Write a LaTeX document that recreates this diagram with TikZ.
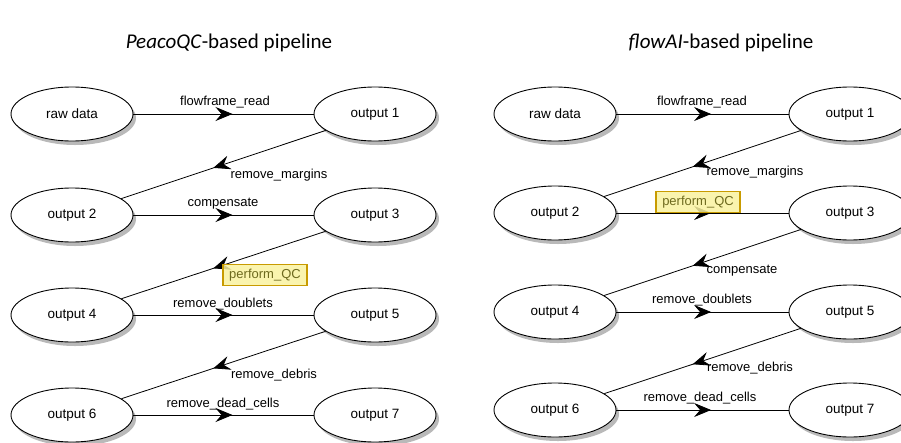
\documentclass[tikz,border=0pt]{standalone}
\usepackage{fontspec}
\setmainfont{Liberation Sans}
\newfontfamily\titlefont{Carlito}
\usetikzlibrary{shapes.geometric,arrows.meta,decorations.markings}
\definecolor{qcfill}{HTML}{FAF3A0}
\definecolor{qcdraw}{HTML}{C89B00}
\definecolor{qctext}{HTML}{6E6A1E}
\begin{document}
\begin{tikzpicture}[x=1pt,y=-1pt,
  stepnode/.style={ellipse, draw=black, line width=0.9pt, fill=white,
    minimum width=122pt, minimum height=54pt, inner sep=0pt,
    font=\fontsize{13.5}{15}\selectfont},
  shadowell/.style={ellipse, fill=gray!55, draw=none,
    minimum width=122pt, minimum height=54pt, inner sep=0pt},
  flow/.style={draw=black, line width=0.8pt, postaction={decorate},
    decoration={markings, mark=at position 0.55 with {\arrow{Stealth[length=17pt,width=14pt,inset=6pt]}}}},
  lbl/.style={font=\fontsize{13}{15}\selectfont, inner sep=1pt},
  qcbox/.style={lbl, fill=qcfill, fill opacity=0.85, text opacity=1, draw=qcdraw, line width=1.6pt, text=qctext, inner xsep=3pt, inner ysep=2pt, minimum width=84pt, minimum height=21pt},
  ttl/.style={font=\titlefont\fontsize{21}{24}\selectfont}
]
\useasboundingbox (0,0) rectangle (901,442);
\fill[white] (0,0) rectangle (901,442);
\begin{scope}
\clip (0,0) rectangle (901,442);
% titles
\node[ttl] (t1) at (229,43) {\textit{PeacoQC}-based pipeline};
\node[ttl] (t2) at (721,43) {\textit{flowAI}-based pipeline};

% shadows
\foreach \x/\y in {72/114,375/114,72/215,375/215,72/315,375/315,72/415,375/415,
                   555/114,850/114,555/213,850/213,555/312,850/312,555/410,850/410}
  \node[shadowell] at (\x+3,\y+4) {};

% left pipeline
\node[stepnode] (a0) at (72,114) {raw data};
\node[stepnode] (a1) at (375,114) {output 1};
\node[stepnode] (a2) at (72,215) {output 2};
\node[stepnode] (a3) at (375,215) {output 3};
\node[stepnode] (a4) at (72,315) {output 4};
\node[stepnode] (a5) at (375,315) {output 5};
\node[stepnode] (a6) at (72,415) {output 6};
\node[stepnode] (a7) at (375,415) {output 7};
\draw[flow] (a0) -- (a1);
\draw[flow] (a1) -- (a2);
\draw[flow] (a2) -- (a3);
\draw[flow] (a3) -- (a4);
\draw[flow] (a4) -- (a5);
\draw[flow] (a5) -- (a6);
\draw[flow] (a6) -- (a7);
\node[lbl] (la1) at (225,102) {flowframe\_read};
\node[lbl] (la2) at (279,175) {remove\_margins};
\node[lbl] (la3) at (223,204) {compensate};
\node[qcbox] (la4) at (265,275) {perform\_QC};
\node[lbl] (la5) at (223,304) {remove\_doublets};
\node[lbl] (la6) at (274,375) {remove\_debris};
\node[lbl] (la7) at (223,404) {remove\_dead\_cells};

% right pipeline
\node[stepnode] (b0) at (555,114) {raw data};
\node[stepnode] (b1) at (850,114) {output 1};
\node[stepnode] (b2) at (555,213) {output 2};
\node[stepnode] (b3) at (850,213) {output 3};
\node[stepnode] (b4) at (555,312) {output 4};
\node[stepnode] (b5) at (850,312) {output 5};
\node[stepnode] (b6) at (555,410) {output 6};
\node[stepnode] (b7) at (850,410) {output 7};
\draw[flow] (b0) -- (b1);
\draw[flow] (b1) -- (b2);
\draw[flow] (b2) -- (b3);
\draw[flow] (b3) -- (b4);
\draw[flow] (b4) -- (b5);
\draw[flow] (b5) -- (b6);
\draw[flow] (b6) -- (b7);
\node[lbl] (lb1) at (702,102) {flowframe\_read};
\node[lbl] (lb2) at (755,172) {remove\_margins};
\node[qcbox] (lb3) at (698,202) {perform\_QC};
\node[lbl] (lb4) at (742,271) {compensate};
\node[lbl] (lb5) at (702,300) {remove\_doublets};
\node[lbl] (lb6) at (750,368) {remove\_debris};
\node[lbl] (lb7) at (700,398) {remove\_dead\_cells};
\end{scope}
\end{tikzpicture}
\end{document}
